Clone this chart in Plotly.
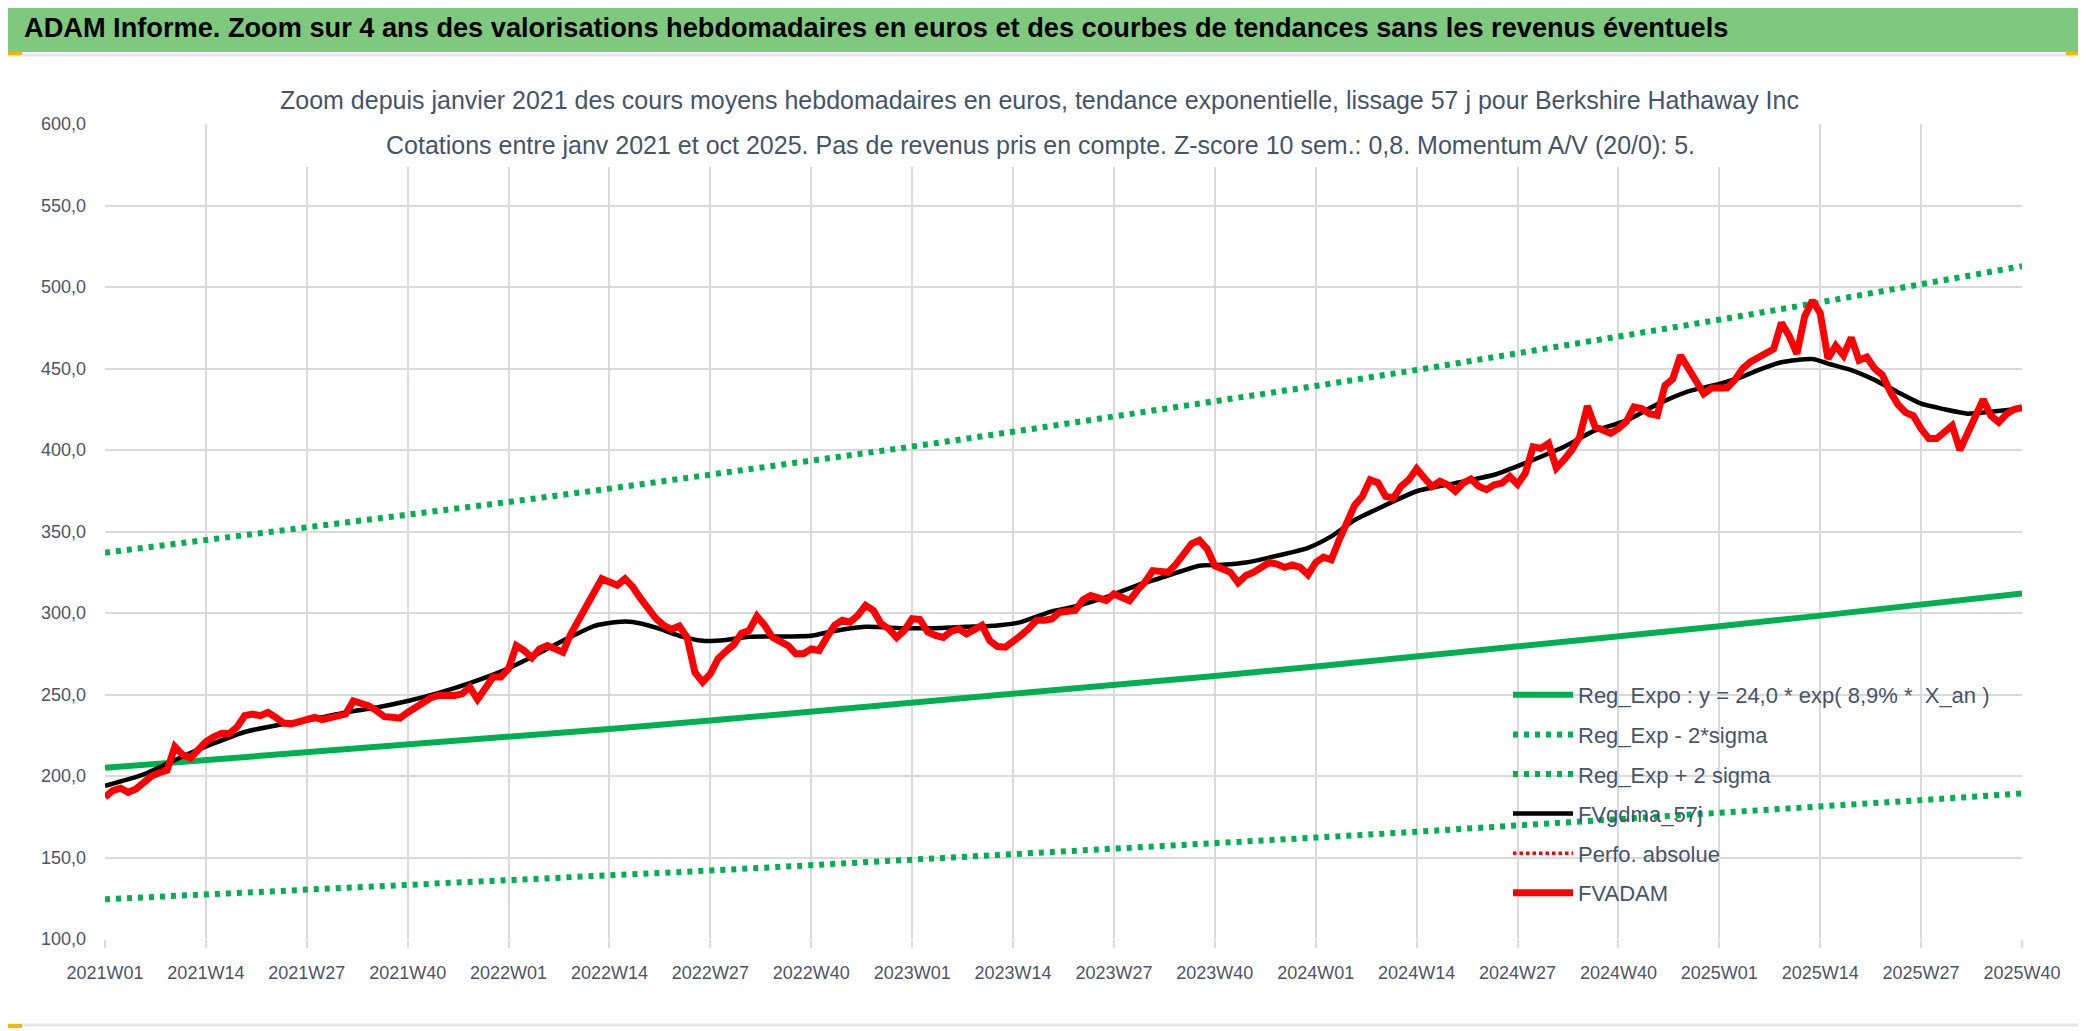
import plotly.graph_objects as go

# ---------------- data ----------------
years = [2021, 2022, 2023, 2024, 2025]
weeks_per_year = [52, 52, 52, 52, 40]
categories = [f"{y}W{w:02d}" for y, n in zip(years, weeks_per_year) for w in range(1, n + 1)]

tick_labels = ["2021W01", "2021W14", "2021W27", "2021W40",
               "2022W01", "2022W14", "2022W27", "2022W40",
               "2023W01", "2023W14", "2023W27", "2023W40",
               "2024W01", "2024W14", "2024W27", "2024W40",
               "2025W01", "2025W14", "2025W27", "2025W40"]

# FVADAM weekly values
fvadam = [
    187, 191, 192.5, 190, 192, 196, 200, 202, 203.5, 218,
    213, 211, 216, 221, 224, 226, 226, 230, 237, 238,
    237, 239, 236, 232.5, 232, 233, 234, 236, 234.6, 235.4,
    237, 238, 246, 245, 243, 240, 236.4, 236, 235.5, 239,
    242, 244, 248, 249.4, 249, 249.4, 250.4, 254.5, 247, 254.5,
    260.7, 260.7, 265.8, 280, 277, 272.5, 278, 280, 278, 276,
    287, 295.5, 303.7, 314, 321, 319, 317, 321, 316, 309,
    302.7, 296.5, 292.4, 290, 292, 285, 263.7, 257.6, 262.7, 272,
    276.5, 280.5, 287.5, 289.3, 298, 292.4, 285, 282, 280, 275,
    275, 278, 277, 285, 292.4, 295.5, 294.4, 298.6, 304.7, 301.6,
    293.4, 290.3, 285, 289.3, 296.5, 296, 288.3, 286.2, 285, 288.7,
    290.3, 287.2, 289.3, 292.4, 283, 279.4, 279, 282, 286.2, 290.3,
    295.5, 295.6, 296.3, 300.5, 301, 301.5, 308, 310.7, 309.3, 307.6,
    311.7, 310, 307.6, 313.8, 319, 326, 326, 325, 330, 336.4,
    342.5, 344.6, 339.4, 329, 327, 325, 318.5, 323, 325, 328,
    331, 330, 328, 329.5, 328, 323.5, 331, 334.3, 332.7, 344.6,
    354.8, 366, 371.5, 381.7, 380, 371.6, 370.6, 377.7, 381.8, 388.5,
    382.8, 377.7, 380.8, 378.7, 374.7, 379.7, 382.2, 377.7, 375.7, 378.7,
    379.7, 383.8, 379, 385.8, 402, 401, 404, 389, 394, 400,
    408, 427, 414.2, 412.6, 410.2, 413.2, 417.3, 426.4, 425.4, 422.3,
    421.3, 439.6, 443.6, 458, 450, 441, 434.5, 438, 437.5, 438,
    443, 450, 454, 457, 460, 462, 478, 470, 459, 482,
    491.7, 484, 456, 464, 458, 469, 455, 457, 450, 446,
    436, 428, 423, 421, 413, 407, 407, 411, 415, 400,
    410, 422, 431, 421, 417, 422, 425, 426,
]

# FVgdma_57j smoothed curve, read at selected weeks (index into categories)
gdma_week_idx = [0, 5, 10, 14, 18, 22, 27, 31, 35, 39, 43, 47, 51, 55, 59, 63, 66, 68, 71, 74,
                 77, 80, 83, 88, 91, 94, 98, 103, 107, 111, 115, 118, 122, 125, 129, 133, 137, 141,
                 144, 147, 150, 155, 158, 161, 164, 169, 174, 179, 183, 188, 192, 196, 200, 204,
                 208, 211, 213, 216, 220, 222, 225, 228, 231, 234, 237, 240, 243, 247]
gdma_values = [194, 201, 212, 220, 227, 231, 235, 239, 242, 246, 251, 257, 264, 273, 283, 292,
               294.5, 294.5, 291, 286, 283, 283.5, 285.5, 285.6, 286, 289, 291.5, 290.7, 290.7,
               291.5, 292.4, 294.4, 301, 304, 309.7, 317, 323, 329, 329.6, 331, 334, 340, 347,
               357, 364, 374.7, 379.7, 384.8, 392, 402, 412, 418, 428, 436, 440.6, 445, 449,
               453.8, 455.8, 453, 449, 443, 435.5, 428.4, 425, 422.3, 423.5, 425.4]

# Regression lines, read at each tick label
reg_expo = [205.0, 209.6, 214.3, 219.0, 223.9, 228.9, 234.0, 239.3, 244.6, 250.1,
            255.7, 261.4, 267.2, 273.2, 279.3, 285.5, 291.9, 298.4, 305.1, 311.9]
reg_minus = [124.4, 127.2, 130.1, 132.9, 135.9, 138.9, 142.0, 145.3, 148.5, 151.8,
             155.2, 158.7, 162.2, 165.8, 169.5, 173.3, 177.2, 181.1, 185.2, 189.3]
reg_plus = [337.0, 344.6, 352.3, 360.1, 368.1, 376.3, 384.7, 393.4, 402.1, 411.2,
            420.4, 429.7, 439.3, 449.1, 459.2, 469.4, 479.9, 490.6, 501.6, 512.8]

series_names = ["Reg_Expo : y = 24,0 * exp( 8,9% *  X_an )", "Reg_Exp - 2*sigma",
                "Reg_Exp + 2 sigma", "FVgdma_57j", "Perfo. absolue", "FVADAM"]

main_title = ("ADAM Informe. Zoom sur 4 ans des valorisations hebdomadaires en euros "
              "et des courbes de tendances sans les revenus éventuels")
sub_title_1 = ("Zoom depuis janvier 2021 des cours moyens hebdomadaires en euros, tendance "
               "exponentielle, lissage 57 j pour Berkshire Hathaway Inc")
sub_title_2 = ("Cotations entre janv 2021 et oct 2025. Pas de revenus pris en compte. "
               "Z-score 10 sem.: 0,8. Momentum A/V (20/0): 5.")

# ---------------- layout geometry (page pixels) ----------------
W, H = 2086, 1031
OFF = 8                       # default page margin of the html body
L, R, T, B = 105, 2022, 124, 939
FONT = "Liberation Sans, Arial, sans-serif"
TXT = "#44546A"
TICK = "#4D5466"
GRID = "#D9D9DE"
GREEN = "#00B050"


def px_x(X):
    return (X - L) / (R - L)


def px_y(Y):
    return (B - Y) / (B - T)


fig = go.Figure()

fig.add_trace(go.Scatter(x=tick_labels, y=reg_expo, name=series_names[0], mode="lines",
                         line=dict(color=GREEN, width=6), legendgroup="a"))
fig.add_trace(go.Scatter(x=tick_labels, y=reg_minus, name=series_names[1], mode="lines",
                         line=dict(color=GREEN, width=6, dash="5px,6px"), legendgroup="b"))
fig.add_trace(go.Scatter(x=tick_labels, y=reg_plus, name=series_names[2], mode="lines",
                         line=dict(color=GREEN, width=6, dash="5px,6px"), legendgroup="c"))
fig.add_trace(go.Scatter(x=[categories[i] for i in gdma_week_idx], y=gdma_values,
                         name=series_names[3], mode="lines",
                         line=dict(color="#000000", width=4.5, shape="spline", smoothing=0.6),
                         legendgroup="d"))
fig.add_trace(go.Scatter(x=[categories[0]], y=[None], name=series_names[4], mode="lines",
                         line=dict(color="#FF0000", width=3.5, dash="3.5px,3px"), legendgroup="e"))
fig.add_trace(go.Scatter(x=categories, y=fvadam, name=series_names[5], mode="lines",
                         line=dict(color="#FF0000", width=7), legendgroup="f"))

shapes = [
    dict(type="rect", xref="paper", yref="paper", x0=px_x(0), x1=px_x(W + 20), y0=px_y(52), y1=px_y(-10),
         fillcolor="#7FC97F", line=dict(width=0), layer="below"),
    dict(type="line", xref="paper", yref="paper", x0=px_x(0), x1=px_x(W + 20), y0=px_y(55), y1=px_y(55),
         line=dict(color="#E3E3E8", width=3)),
    dict(type="line", xref="paper", yref="paper", x0=px_x(0), x1=px_x(W + 20), y0=px_y(1025), y1=px_y(1025),
         line=dict(color="#E3E3E8", width=3)),
    dict(type="rect", xref="paper", yref="paper", x0=px_x(273), x1=px_x(1808), y0=px_y(167), y1=px_y(60),
         fillcolor="white", line=dict(width=0), layer="above"),
    dict(type="rect", xref="paper", yref="paper", x0=px_x(OFF), x1=px_x(22), y0=px_y(55), y1=px_y(52),
         fillcolor="#F2B700", line=dict(width=0)),
    dict(type="rect", xref="paper", yref="paper", x0=px_x(2066), x1=px_x(2086), y0=px_y(55), y1=px_y(52),
         fillcolor="#F2B700", line=dict(width=0)),
    dict(type="rect", xref="paper", yref="paper", x0=px_x(2079), x1=px_x(2086), y0=px_y(72), y1=px_y(52),
         fillcolor="#F2B700", line=dict(width=0)),
    dict(type="rect", xref="paper", yref="paper", x0=px_x(OFF), x1=px_x(22), y0=px_y(1028), y1=px_y(1024),
         fillcolor="#F2B700", line=dict(width=0)),
]

annotations = [
    dict(text=f"<b>{main_title}</b>", xref="paper", yref="paper", x=px_x(22), y=px_y(27),
         xanchor="left", yanchor="middle", showarrow=False,
         font=dict(family=FONT, size=27.2, color="#000000")),
    dict(text=sub_title_1, xref="paper", yref="paper", x=px_x(1039), y=px_y(100),
         xanchor="center", yanchor="middle", showarrow=False,
         font=dict(family=FONT, size=25, color=TXT)),
    dict(text=sub_title_2, xref="paper", yref="paper", x=px_x(1040), y=px_y(145),
         xanchor="center", yanchor="middle", showarrow=False,
         font=dict(family=FONT, size=25, color=TXT)),
]

fig.update_layout(
    width=W, height=H,
    margin=dict(l=L - OFF, r=W - (R - OFF), t=T - OFF, b=H - (B - OFF), pad=0),
    paper_bgcolor="white", plot_bgcolor="white",
    separators=", ",
    font=dict(family=FONT, color=TXT),
    shapes=shapes,
    annotations=annotations,
    showlegend=True,
    legend=dict(x=px_x(1508), y=px_y(674), xanchor="left", yanchor="top",
                bgcolor="rgba(0,0,0,0)", font=dict(family=FONT, size=22, color=TXT),
                itemwidth=60, tracegroupgap=8, traceorder="grouped"),
    xaxis=dict(type="category", categoryorder="array", categoryarray=categories,
               range=[0, len(categories) - 1], tickmode="array", tickvals=tick_labels,
               ticktext=tick_labels, showgrid=True, gridcolor=GRID, gridwidth=1.5,
               ticks="outside", ticklen=8, tickcolor=GRID, tickwidth=1.5,
               showline=False, zeroline=False, ticklabelstandoff=9,
               tickfont=dict(family=FONT, size=18, color=TICK)),
    yaxis=dict(range=[100, 600], dtick=50, tick0=100, tickformat=".1f",
               showgrid=True, gridcolor=GRID, gridwidth=1.5, zeroline=False, showline=False,
               ticks="", ticklabelstandoff=18,
               tickfont=dict(family=FONT, size=18, color=TICK)),
)

fig.write_html("out.html")
